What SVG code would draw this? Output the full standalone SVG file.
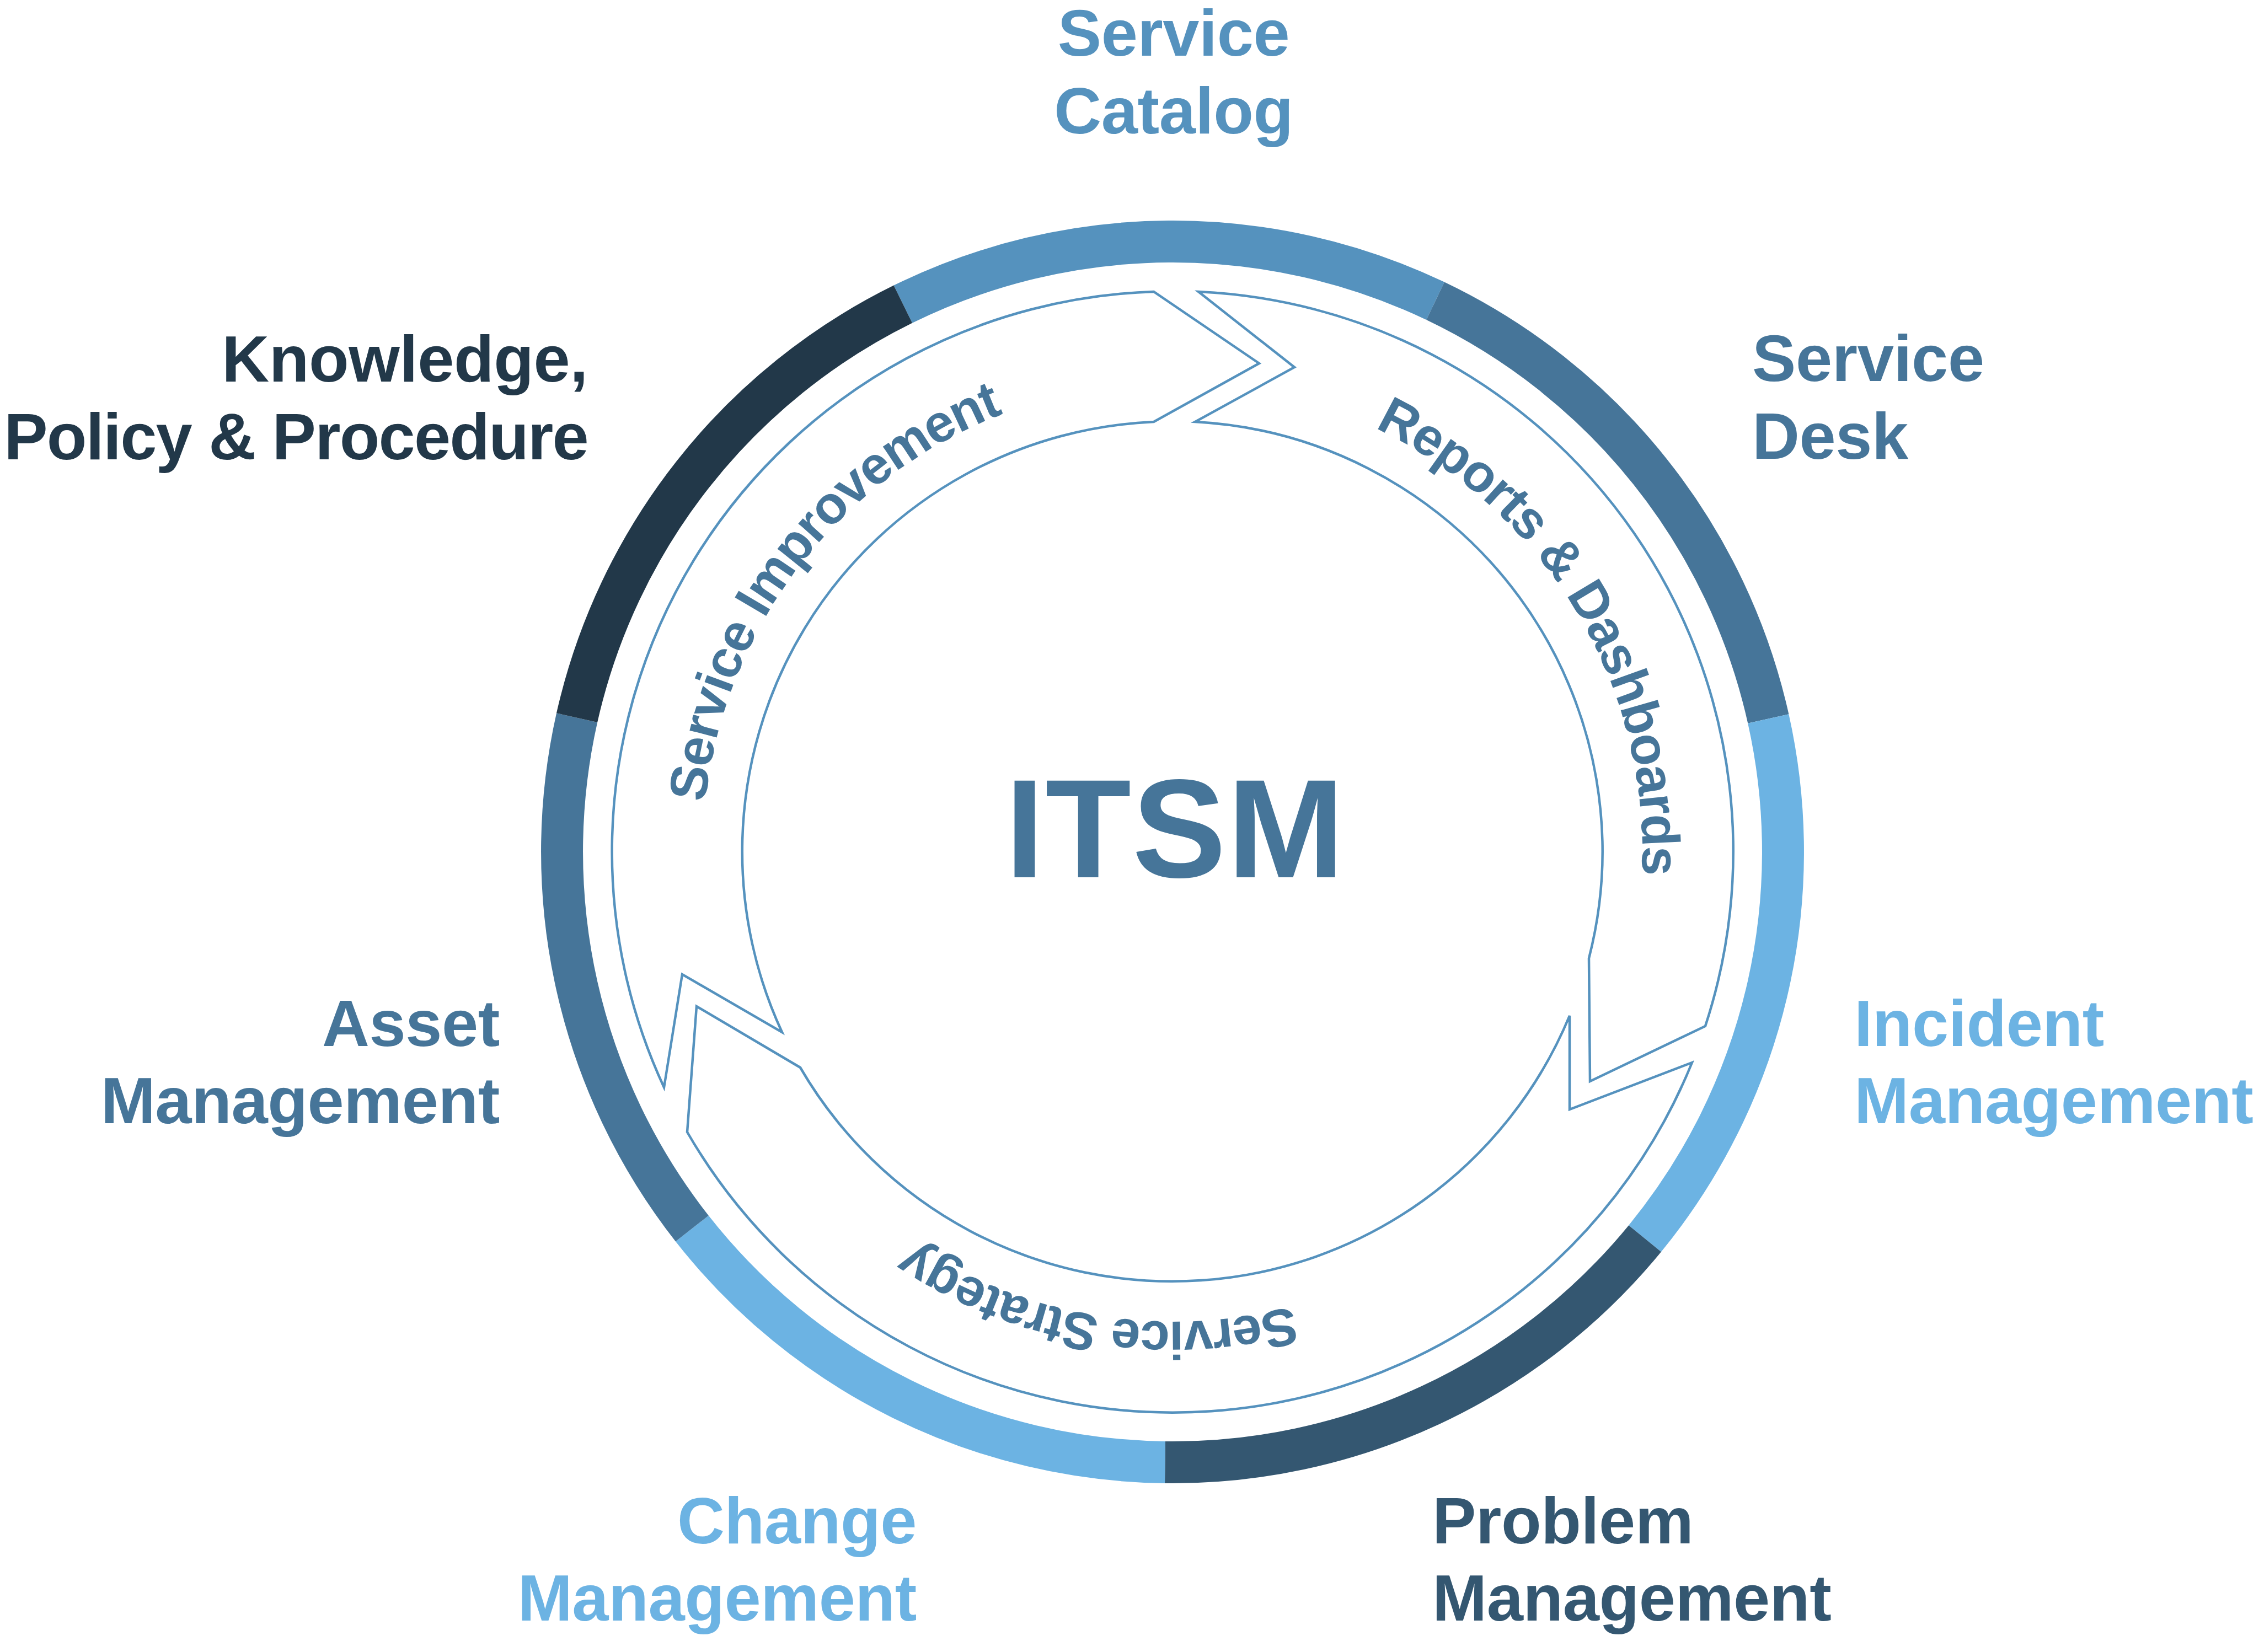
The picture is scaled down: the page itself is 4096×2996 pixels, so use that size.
<svg xmlns="http://www.w3.org/2000/svg" width="4096" height="2996" viewBox="0 0 4096 2996">
  <style>
    .seg { fill: none; stroke-width: 76; stroke-linecap: butt; }
    .lbl { font-family: "Liberation Sans", Arial, Helvetica, sans-serif; font-weight: bold; font-size: 119px; letter-spacing: -0.4px; }
    .arrow { fill: #ffffff; stroke: #5592BE; stroke-width: 4.5; stroke-linejoin: miter; }
    .atxt { font-family: "Liberation Sans", Arial, Helvetica, sans-serif; font-weight: bold; font-size: 96px; letter-spacing: -2px; fill: #467599; }
    .c-catalog { stroke: #5592BE; } .t-catalog { fill: #5592BE; }
    .c-mid { stroke: #467599; } .t-mid { fill: #467599; }
    .c-light { stroke: #6CB3E3; } .t-light { fill: #6CB3E3; }
    .c-problem { stroke: #345771; } .t-problem { fill: #345771; }
    .c-dark { stroke: #223849; } .t-dark { fill: #223849; }
  </style>
  <defs>
    <path id="textCircle" d="M1274,1545 A852,852 0 1 1 2978,1545 A852,852 0 1 1 1274,1545"/>
  </defs>
  <rect width="4096" height="2996" fill="#ffffff"/>

  <g id="service-catalog">
    <path class="seg c-catalog" d="M1637.3,551.7 A1107,1107 0 0 1 2602.6,545.8"/>
    <text class="lbl t-catalog" text-anchor="middle"><tspan x="2128" y="101">Service</tspan><tspan x="2128" y="242">Catalog</tspan></text>
  </g>
  <g id="service-desk">
    <path class="seg c-mid" d="M2602.6,545.8 A1107,1107 0 0 1 3206.3,1303.5"/>
    <text class="lbl t-mid"><tspan x="3177" y="691">Service</tspan><tspan x="3177" y="832">Desk</tspan></text>
  </g>
  <g id="incident-management">
    <path class="seg c-light" d="M3206.3,1303.5 A1107,1107 0 0 1 2982.6,2246.2"/>
    <text class="lbl t-light"><tspan x="3362" y="1897">Incident</tspan><tspan x="3362" y="2037">Management</tspan></text>
  </g>
  <g id="problem-management">
    <path class="seg c-problem" d="M2982.6,2246.2 A1107,1107 0 0 1 2112.5,2651.9"/>
    <text class="lbl t-problem"><tspan x="2597" y="2799">Problem</tspan><tspan x="2597" y="2939">Management</tspan></text>
  </g>
  <g id="change-management">
    <path class="seg c-light" d="M2112.5,2651.9 A1107,1107 0 0 1 1254.9,2228.0"/>
    <text class="lbl t-light" text-anchor="end"><tspan x="1662" y="2799">Change</tspan><tspan x="1662" y="2939">Management</tspan></text>
  </g>
  <g id="asset-management">
    <path class="seg c-mid" d="M1254.9,2228.0 A1107,1107 0 0 1 1046.1,1301.7"/>
    <text class="lbl t-mid" text-anchor="end"><tspan x="906" y="1897">Asset</tspan><tspan x="906" y="2037">Management</tspan></text>
  </g>
  <g id="knowledge-policy-procedure">
    <path class="seg c-dark" d="M1046.1,1301.7 A1107,1107 0 0 1 1637.3,551.7"/>
    <text class="lbl t-dark" text-anchor="end"><tspan x="1066" y="692">Knowledge,</tspan><tspan x="1066" y="833" letter-spacing="-1.8">Policy &amp; Procedure</tspan></text>
  </g>

  <g id="itsm">
    <text x="2131" y="1591" text-anchor="middle" font-family="Liberation Sans, Arial, Helvetica, sans-serif" font-weight="bold" font-size="255" letter-spacing="2" fill="#467599">ITSM</text>
  </g>

  <g id="connectors">
    <g id="arrow-service-improvement">
      <path class="arrow" d="M1204,1972 L1237,1767 L1418,1872 A780,780 0 0 1 2092,765 L2283,659 L2092,529 A1016,1016 0 0 0 1204,1972 Z"/>
      <text class="atxt"><textPath href="#textCircle" startOffset="10.39%" text-anchor="middle">Service Improvement</textPath></text>
    </g>
    <g id="arrow-reports-dashboards">
      <path class="arrow" d="M2173,529 L2347,666 L2167,765 A780,780 0 0 1 2881,1738 L2883,1961 L3092,1861 A1016,1016 0 0 0 2173,529 Z"/>
      <text class="atxt"><textPath href="#textCircle" startOffset="41.42%" text-anchor="middle">Reports &amp; Dashboards</textPath></text>
    </g>
    <g id="arrow-service-strategy">
      <path class="arrow" d="M3068,1927 L2846,2012 L2846,1842 A780,780 0 0 1 1451,1936 L1263,1825 L1246,2053 A1016,1016 0 0 0 3068,1927 Z"/>
      <text class="atxt"><textPath href="#textCircle" startOffset="77.61%" text-anchor="middle">Service Strategy</textPath></text>
    </g>
  </g>
</svg>
